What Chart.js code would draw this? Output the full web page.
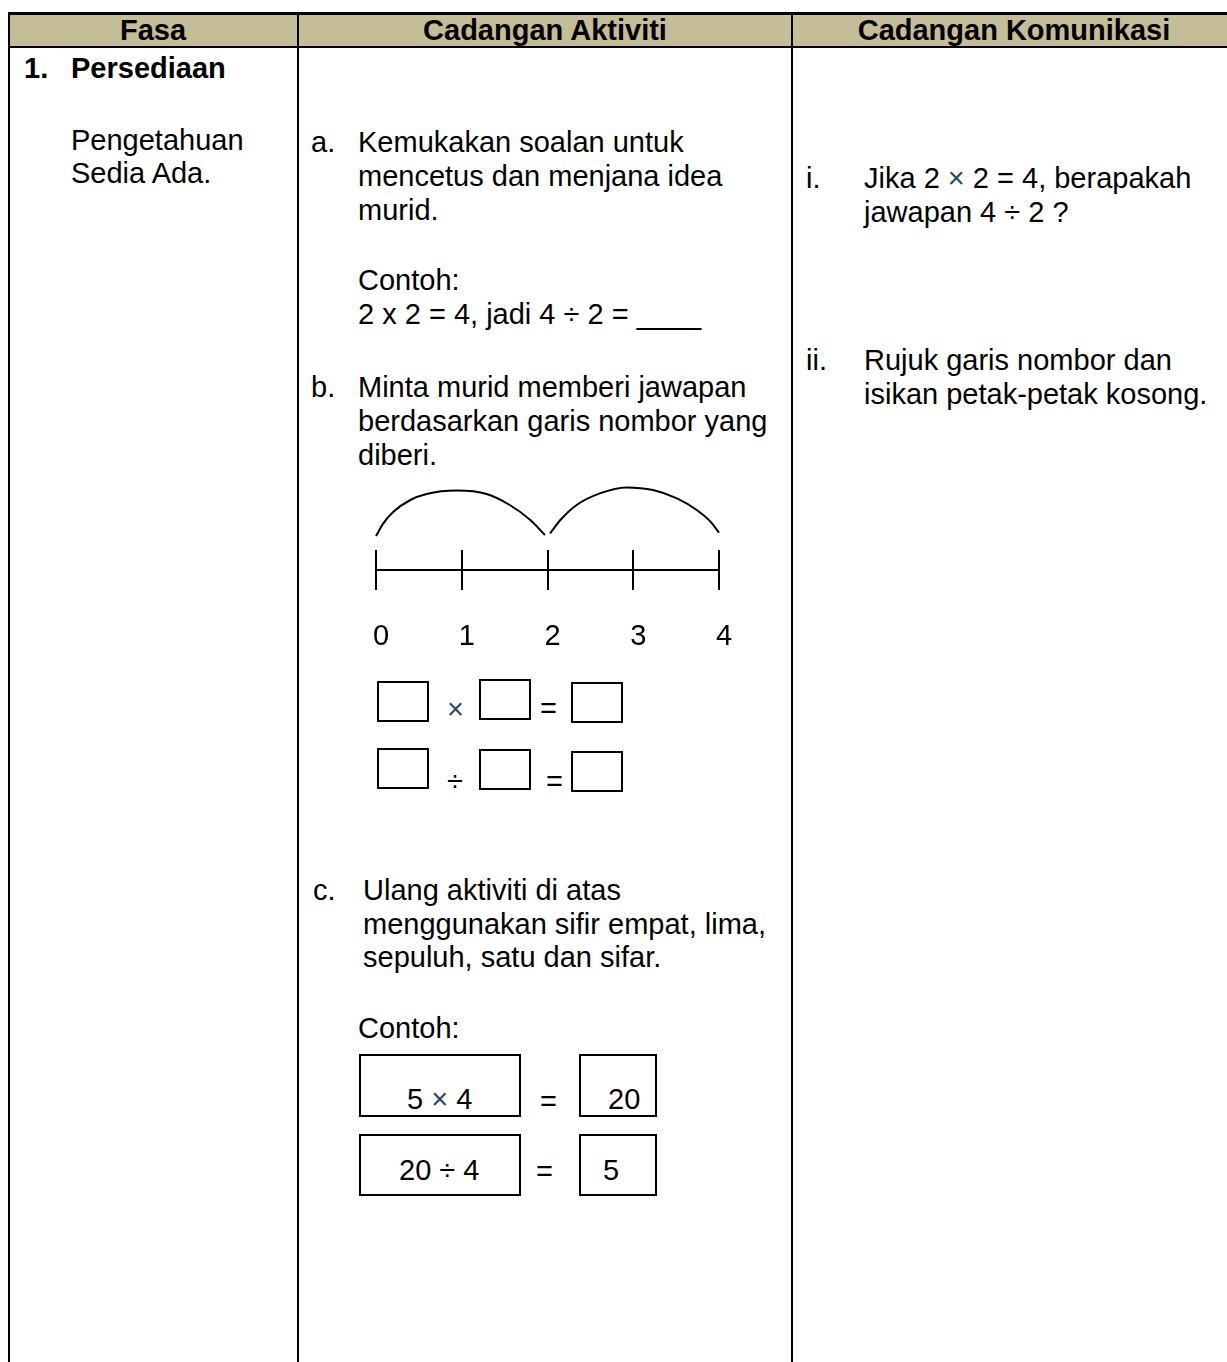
<!DOCTYPE html>
<html>
<head>
<meta charset="utf-8">
<title>Fasa 1 - Persediaan</title>
<script src="https://cdn.jsdelivr.net/npm/chart.js@4.4.1/dist/chart.umd.min.js"></script>
<style>
  body { margin: 0; background: #fff; }
  #page { position: relative; width: 1227px; height: 1362px; overflow: hidden; font-family: "Liberation Sans", Arial, sans-serif; color: #000; }
  .t { position: absolute; font-size: 29px; line-height: 34px; white-space: nowrap; }
  .b { font-weight: bold; }
  .h { position: absolute; top: 13px; height: 34px; line-height: 34px; font-size: 29px; font-weight: bold; text-align: center; }
  .vl { position: absolute; top: 13px; bottom: 0; width: 2px; background: #000; }
  .box { position: absolute; border: 2px solid #000; box-sizing: border-box; }
  .x { color: #2c4a5c; }
  #lineWrap { position: absolute; left: 336px; top: 470px; width: 423px; height: 190px; }
</style>
</head>
<body>
<div id="page">
  <!-- header band -->
  <div style="position:absolute;left:8px;top:12px;width:1230px;height:35px;background:#c4bd97;"></div>
  <div style="position:absolute;left:8px;top:12px;width:1230px;height:3px;background:#000;"></div>
  <div style="position:absolute;left:8px;top:46px;width:1230px;height:2px;background:#000;"></div>
  <div class="vl" style="left:8px;"></div>
  <div class="vl" style="left:297px;"></div>
  <div class="vl" style="left:791px;"></div>
  <div class="h" style="left:8px;width:290px;">Fasa</div>
  <div class="h" style="left:298px;width:494px;">Cadangan Aktiviti</div>
  <div class="h" style="left:792px;width:444px;">Cadangan Komunikasi</div>

  <!-- column 1 -->
  <div class="t b" style="left:24px;top:51px;">1.</div>
  <div class="t b" style="left:71px;top:51px;">Persediaan</div>
  <div class="t" style="left:71px;top:123px;">Pengetahuan</div>
  <div class="t" style="left:71px;top:156px;">Sedia Ada.</div>

  <!-- column 2 -->
  <div class="t" style="left:311px;top:125px;">a.</div>
  <div class="t" style="left:358px;top:125px;">Kemukakan soalan untuk</div>
  <div class="t" style="left:358px;top:159px;">mencetus dan menjana idea</div>
  <div class="t" style="left:358px;top:193px;">murid.</div>
  <div class="t" style="left:358px;top:263px;">Contoh:</div>
  <div class="t" style="left:358px;top:297px;">2 x 2 = 4, jadi 4 ÷ 2 = ____</div>

  <div class="t" style="left:311px;top:370px;">b.</div>
  <div class="t" style="left:358px;top:370px;">Minta murid memberi jawapan</div>
  <div class="t" style="left:358px;top:404px;">berdasarkan garis nombor yang</div>
  <div class="t" style="left:358px;top:438px;">diberi.</div>

  <div id="lineWrap"><canvas id="numberLine" width="423" height="190"></canvas></div>

  <div class="box" style="left:377px;top:681px;width:52px;height:41px;"></div>
  <div class="t x" style="left:447px;top:692px;">×</div>
  <div class="box" style="left:479px;top:679px;width:52px;height:41px;"></div>
  <div class="t" style="left:540px;top:691px;">=</div>
  <div class="box" style="left:571px;top:682px;width:52px;height:41px;"></div>

  <div class="box" style="left:377px;top:748px;width:52px;height:41px;"></div>
  <div class="t" style="left:447px;top:764px;">÷</div>
  <div class="box" style="left:479px;top:749px;width:52px;height:41px;"></div>
  <div class="t" style="left:546px;top:764px;">=</div>
  <div class="box" style="left:571px;top:751px;width:52px;height:41px;"></div>

  <div class="t" style="left:313px;top:873px;">c.</div>
  <div class="t" style="left:363px;top:873px;">Ulang aktiviti di atas</div>
  <div class="t" style="left:363px;top:907px;">menggunakan sifir empat, lima,</div>
  <div class="t" style="left:363px;top:940px;">sepuluh, satu dan sifar.</div>
  <div class="t" style="left:358px;top:1011px;">Contoh:</div>

  <div class="box" style="left:359px;top:1054px;width:162px;height:63px;"></div>
  <div class="t" style="left:407px;top:1082px;">5 <span class="x">×</span> 4</div>
  <div class="t" style="left:540px;top:1084px;">=</div>
  <div class="box" style="left:579px;top:1054px;width:78px;height:63px;"></div>
  <div class="t" style="left:608px;top:1082px;">20</div>

  <div class="box" style="left:359px;top:1134px;width:162px;height:62px;"></div>
  <div class="t" style="left:399px;top:1153px;">20 ÷ 4</div>
  <div class="t" style="left:536px;top:1154px;">=</div>
  <div class="box" style="left:579px;top:1134px;width:78px;height:62px;"></div>
  <div class="t" style="left:603px;top:1153px;">5</div>

  <!-- column 3 -->
  <div class="t" style="left:806px;top:161px;">i.</div>
  <div class="t" style="left:864px;top:161px;">Jika 2 <span class="x">×</span> 2 = 4, berapakah</div>
  <div class="t" style="left:864px;top:195px;">jawapan 4 ÷ 2 ?</div>
  <div class="t" style="left:806px;top:343px;">ii.</div>
  <div class="t" style="left:864px;top:343px;">Rujuk garis nombor dan</div>
  <div class="t" style="left:864px;top:377px;">isikan petak-petak kosong.</div>
</div>

<script>
// number line 0..4, two jumps of 2 drawn above it
const tickValues = [0, 1, 2, 3, 4];
const jump1X = [0, 0.085, 0.2, 0.4, 0.59, 0.94, 1.29, 1.56, 1.8, 1.97];
const jump1Y = [1.7, 2.33, 2.9, 3.5, 3.8, 3.97, 3.8, 3.25, 2.5, 1.75];
const jump2X = [2.03, 2.15, 2.34, 2.61, 2.92, 3.23, 3.51, 3.74, 3.9, 4.0];
const jump2Y = [1.83, 2.5, 3.25, 3.83, 4.13, 4.0, 3.58, 3.0, 2.42, 1.87];

function toPoints(xs, ys) {
    return xs.map((x, i) => ({ x: x, y: ys[i] }));
}

const lineStart = tickValues[0];
const lineEnd = tickValues[tickValues.length - 1];

new Chart(document.getElementById('numberLine'), {
    type: 'line',
    data: {
        datasets: [
            { data: [{ x: lineStart, y: 0 }, { x: lineEnd, y: 0 }] },
            { data: toPoints(jump1X, jump1Y), cubicInterpolationMode: 'monotone' },
            { data: toPoints(jump2X, jump2Y), cubicInterpolationMode: 'monotone' }
        ]
    },
    options: {
        responsive: false,
        animation: false,
        events: [],
        layout: { padding: { left: 40, right: 40, top: 80, bottom: 0 } },
        elements: {
            line: { borderColor: '#000', borderWidth: 2, capBezierPoints: false, fill: false },
            point: { radius: 0 }
        },
        datasets: { line: { clip: false } },
        plugins: { legend: { display: false }, tooltip: { enabled: false } },
        scales: {
            x: {
                type: 'linear',
                min: lineStart,
                max: lineEnd,
                afterFit: function(scale) { scale.height = 70; },
                afterBuildTicks: function(scale) { scale.ticks = tickValues.map(v => ({ value: v })); },
                grid: { color: '#000', lineWidth: 2, drawTicks: false },
                border: { display: false },
                ticks: { color: '#000', padding: 30, labelOffset: 5, font: { family: 'Liberation Sans', size: 29 } }
            },
            y: { type: 'linear', min: -1, max: 1, display: false }
        }
    }
});
</script>
</body>
</html>
